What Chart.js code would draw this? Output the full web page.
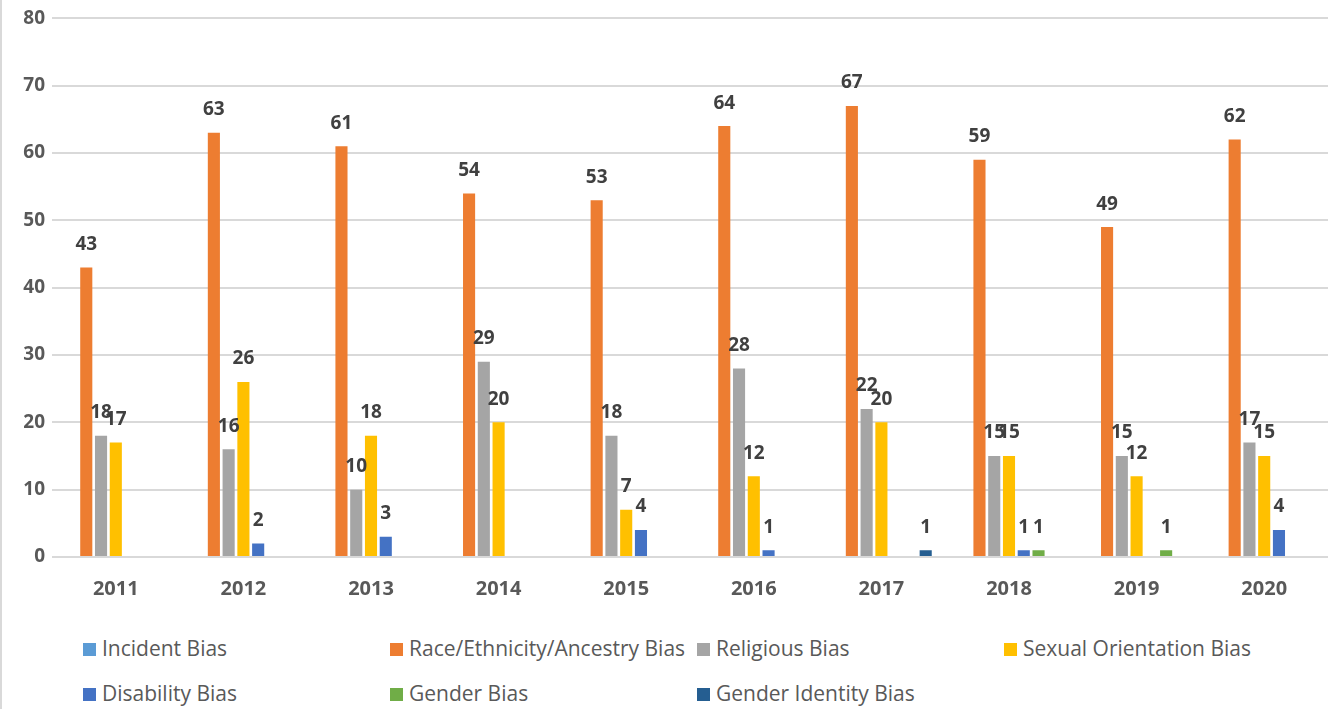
<!DOCTYPE html>
<html>
<head>
<meta charset="utf-8">
<script src="https://cdn.jsdelivr.net/npm/chart.js@4"></script>
<style>
  body { margin: 0; background: #fff; }
  #wrap { position: relative; width: 1330px; height: 709px; box-sizing: border-box; border-left: 2px solid #d9d9d9; }
  #chartBox { position: absolute; left: 0; top: 0; width: 1328px; height: 620px; }
  #legend { position: absolute; left: 0; top: 620px; width: 1328px; height: 89px; }
  .item { position: absolute; font-family: "Open Sans", sans-serif; font-size: 21px; color: #595959; white-space: nowrap; line-height: 28px; }
  .item span.box { display: inline-block; width: 13px; height: 13px; margin-right: 6px; vertical-align: 0px; }
</style>
</head>
<body>
<div id="wrap">
  <div id="chartBox"><canvas id="biasChart"></canvas></div>
  <div id="legend"></div>
</div>
<script>
// Years on the x axis
const years = ['2011', '2012', '2013', '2014', '2015', '2016', '2017', '2018', '2019', '2020'];

// Series values (null = nothing drawn)
const incidentBias = [null, null, null, null, null, null, null, null, null, null];
const raceBias = [43, 63, 61, 54, 53, 64, 67, 59, 49, 62];
const religiousBias = [18, 16, 10, 29, 18, 28, 22, 15, 15, 17];
const sexualOrientationBias = [17, 26, 18, 20, 7, 12, 20, 15, 12, 15];
const disabilityBias = [null, 2, 3, null, 4, 1, null, 1, null, 4];
const genderBias = [null, null, null, null, null, null, null, 1, 1, null];
const genderIdentityBias = [null, null, null, null, null, null, 1, null, null, null];

const seriesNames = ['Incident Bias', 'Race/Ethnicity/Ancestry Bias', 'Religious Bias', 'Sexual Orientation Bias',
  'Disability Bias', 'Gender Bias', 'Gender Identity Bias'];
const seriesData = [incidentBias, raceBias, religiousBias, sexualOrientationBias, disabilityBias, genderBias, genderIdentityBias];
const seriesColors = ['#5B9BD5', '#ED7D31', '#A5A5A5', '#FFC000', '#4472C4', '#70AD47', '#255E91'];

// Y axis
const yMin = 0, yMax = 80, yStep = 10;

// Value labels above each bar
const barLabels = {
  id: 'barLabels',
  afterDatasetsDraw(chart) {
    const ctx = chart.ctx;
    ctx.save();
    ctx.font = 'bold 19px "Open Sans", sans-serif';
    ctx.fillStyle = '#404040';
    ctx.textAlign = 'center';
    ctx.textBaseline = 'middle';
    chart.data.datasets.forEach((ds, i) => {
      const meta = chart.getDatasetMeta(i);
      meta.data.forEach((bar, j) => {
        const v = ds.data[j];
        if (v === null || v === 0) return;
        ctx.fillText(String(v), bar.x, bar.y - 23);
      });
    });
    ctx.restore();
  }
};

const ctx = document.getElementById('biasChart').getContext('2d');

new Chart(ctx, {
  type: 'bar',
  data: {
    labels: years,
    datasets: seriesNames.map((name, i) => ({
      label: name,
      data: seriesData[i],
      backgroundColor: seriesColors[i],
      categoryPercentage: 0.81,
      barPercentage: 0.82,
    })),
  },
  options: {
    responsive: true,
    maintainAspectRatio: false,
    animation: false,
    layout: { padding: { top: 16, right: 2, left: 0, bottom: 0 } },
    plugins: {
      legend: { display: false },
      tooltip: { enabled: false },
    },
    scales: {
      x: {
        grid: { display: false },
        border: { display: false },
        ticks: {
          color: '#595959',
          padding: 12,
          font: { weight: 'bold', size: 20, family: 'Open Sans, sans-serif' },
        },
        afterFit: (scale) => { scale.height = 63; },
      },
      y: {
        min: yMin,
        max: yMax,
        border: { display: false },
        grid: { color: '#d9d9d9', lineWidth: 2, drawTicks: false },
        ticks: {
          stepSize: yStep,
          color: '#595959',
          padding: 7,
          font: { weight: 'bold', size: 19, family: 'Open Sans, sans-serif' },
        },
        afterFit: (scale) => { scale.width = 50; },
      },
    },
  },
  plugins: [barLabels],
});

// Legend laid out in 4 columns like the original
const legend = document.getElementById('legend');
seriesNames.forEach((name, i) => {
  const col = i % 4, row = Math.floor(i / 4);
  const el = document.createElement('div');
  el.className = 'item';
  el.style.left = (81 + col * 307) + 'px';
  el.style.top = (14 + row * 45) + 'px';
  el.innerHTML = '<span class="box" style="background:' + seriesColors[i] + '"></span>' + name;
  legend.appendChild(el);
});
</script>
</body>
</html>
